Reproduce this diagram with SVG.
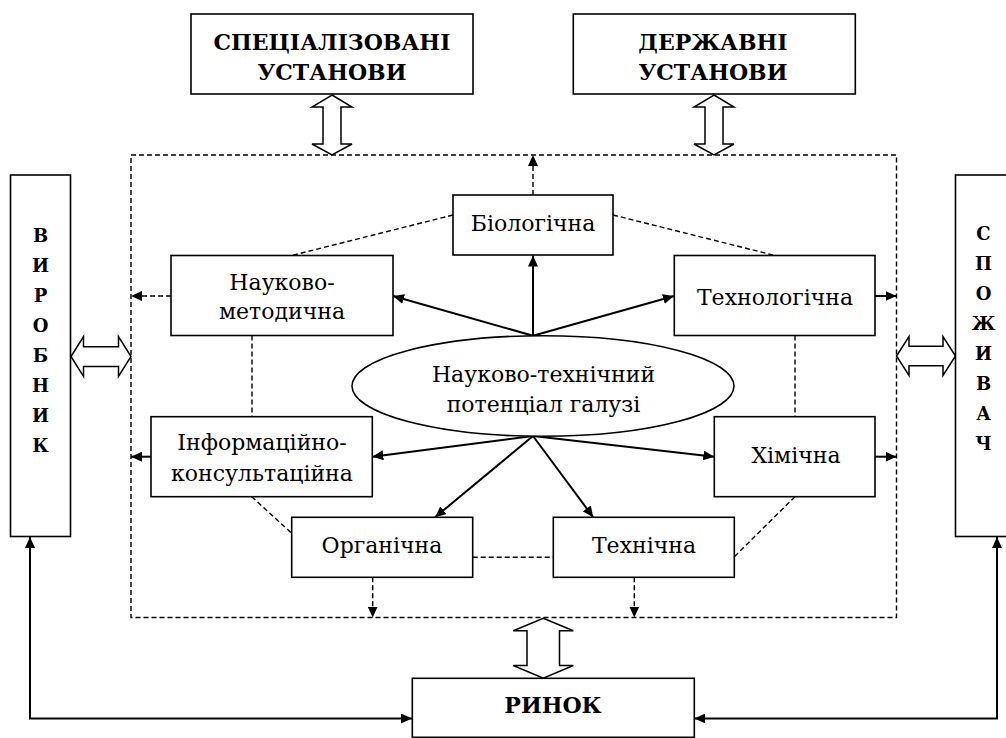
<svg xmlns="http://www.w3.org/2000/svg" width="1006" height="738" viewBox="0 0 1006 738">
<style>
.box{fill:#fff;stroke:#000;stroke-width:1.6}
.sol{fill:none;stroke:#000;stroke-width:2}
.dsh{fill:none;stroke:#000;stroke-width:1.4;stroke-dasharray:5,3}
.dbl{fill:#fff;stroke:#000;stroke-width:1.5;stroke-linejoin:miter}
</style>
<defs>
<marker id="ah" markerUnits="userSpaceOnUse" markerWidth="11" markerHeight="10" refX="11" refY="5" orient="auto-start-reverse" viewBox="0 0 11 10">
<path d="M0,0 L11,5 L0,10 z" fill="#000"/>
</marker>
</defs>
<rect width="1006" height="738" fill="#fff"/>

<g id="container">
<rect x="131" y="155" width="765.5" height="462.5" class="dsh"/>
</g>

<g id="connectors">
<line x1="533" y1="335.7" x2="533" y2="255.5" class="sol" marker-end="url(#ah)"/>
<line x1="533" y1="335.7" x2="393" y2="296" class="sol" marker-end="url(#ah)"/>
<line x1="533" y1="335.7" x2="674" y2="296" class="sol" marker-end="url(#ah)"/>
<line x1="533" y1="436" x2="372.3" y2="456.7" class="sol" marker-end="url(#ah)"/>
<line x1="533" y1="436" x2="714.3" y2="456.7" class="sol" marker-end="url(#ah)"/>
<line x1="533" y1="436" x2="435" y2="517.3" class="sol" marker-end="url(#ah)"/>
<line x1="533" y1="436" x2="593.3" y2="517.3" class="sol" marker-end="url(#ah)"/>
<line x1="875" y1="296" x2="896.5" y2="296" class="sol" marker-end="url(#ah)"/>
<line x1="875" y1="456.7" x2="896.5" y2="456.7" class="sol" marker-end="url(#ah)"/>
<line x1="151" y1="456.7" x2="131" y2="456.7" class="sol" marker-end="url(#ah)"/>
<line x1="533" y1="195" x2="533" y2="155" class="dsh" marker-end="url(#ah)"/>
<line x1="171" y1="296" x2="131" y2="296" class="dsh" marker-end="url(#ah)"/>
<line x1="372.7" y1="577.3" x2="372.7" y2="617.5" class="dsh" marker-end="url(#ah)"/>
<line x1="634.3" y1="577.3" x2="634.3" y2="617.5" class="dsh" marker-end="url(#ah)"/>
<line x1="453" y1="215" x2="291.7" y2="255.5" class="dsh"/>
<line x1="613" y1="215" x2="775" y2="255.5" class="dsh"/>
<line x1="252" y1="335.5" x2="252" y2="416.7" class="dsh"/>
<line x1="795" y1="335.5" x2="795" y2="416.7" class="dsh"/>
<line x1="251.7" y1="496.7" x2="291.7" y2="533.3" class="dsh"/>
<line x1="795" y1="496.7" x2="734.3" y2="556.7" class="dsh"/>
<line x1="472.7" y1="557.3" x2="553.3" y2="557.3" class="dsh"/>
<path d="M30,537 V718.5 H412" class="sol" marker-start="url(#ah)" marker-end="url(#ah)"/>
<path d="M997,537 V718.5 H694.3" class="sol" marker-start="url(#ah)" marker-end="url(#ah)"/>
<polygon class="dbl" points="332,95 352,107 341,107 341,144 352,144 332,155 312,144 323,144 323,107 312,107"/>
<polygon class="dbl" points="714,95 734,107 723,107 723,144 734,144 714,155 694,144 705,144 705,107 694,107"/>
<polygon class="dbl" points="543.3,618.3 573.3,630.7 559.5,630.7 559.5,665.5 573.3,665.5 543.3,678.3 513.3,665.5 527,665.5 527,630.7 513.3,630.7"/>
<polygon class="dbl" points="71,356.5 83.5,336.7 83.5,346.7 118.5,346.7 118.5,336.7 131,356.5 118.5,376.3 118.5,366.5 83.5,366.5 83.5,376.3"/>
<polygon class="dbl" points="896.5,356 909,336.5 909,346.3 943,346.3 943,336.5 955.5,356 943,375.5 943,365.7 909,365.7 909,375.5"/>
</g>

<g font-family="DejaVu Serif, serif" fill="#000" text-anchor="middle">
<g id="spec" font-size="22" font-weight="bold">
<rect x="191" y="14" width="282" height="80" class="box"/>
<text x="332" y="50">СПЕЦІАЛІЗОВАНІ</text>
<text x="332" y="80">УСТАНОВИ</text>
</g>
<g id="derzh" font-size="22" font-weight="bold">
<rect x="573.3" y="14" width="282" height="80" class="box"/>
<text x="713" y="50">ДЕРЖАВНІ</text>
<text x="713" y="80">УСТАНОВИ</text>
</g>
<g id="vyrobnyk" font-size="18" font-weight="bold">
<rect x="10.5" y="175" width="60" height="361.5" class="box"/>
<text x="40.5" y="242">В</text>
<text x="40.5" y="272">И</text>
<text x="40.5" y="302">Р</text>
<text x="40.5" y="332">О</text>
<text x="40.5" y="362">Б</text>
<text x="40.5" y="392">Н</text>
<text x="40.5" y="422">И</text>
<text x="40.5" y="452">К</text>
</g>
<g id="spozhyvach" font-size="18" font-weight="bold">
<rect x="955.5" y="175" width="60" height="361.5" class="box"/>
<text x="983.5" y="240">С</text>
<text x="983.5" y="270">П</text>
<text x="983.5" y="300">О</text>
<text x="983.5" y="330">Ж</text>
<text x="983.5" y="360">И</text>
<text x="983.5" y="390">В</text>
<text x="983.5" y="420">А</text>
<text x="983.5" y="450">Ч</text>
</g>
<g id="rynok" font-size="22" font-weight="bold">
<rect x="412.3" y="678.3" width="282" height="59" class="box"/>
<text x="553" y="713">РИНОК</text>
</g>

<g font-size="22">
<g id="potential">
<ellipse cx="543" cy="386" rx="191" ry="50.3" class="box"/>
<text x="543.5" y="382">Науково-технічний</text>
<text x="543.5" y="412">потенціал галузі</text>
</g>
<g id="biol">
<rect x="453" y="195" width="160" height="60" class="box"/>
<text x="533" y="231">Біологічна</text>
</g>
<g id="nm">
<rect x="171" y="255.5" width="222" height="80" class="box"/>
<text x="282" y="290">Науково-</text>
<text x="282" y="319">методична</text>
</g>
<g id="techlog">
<rect x="674.3" y="255.5" width="200.7" height="80" class="box"/>
<text x="775" y="305">Технологічна</text>
</g>
<g id="info">
<rect x="151" y="416.7" width="221.3" height="80" class="box"/>
<text x="262" y="450">Інформаційно-</text>
<text x="262" y="481">консультаційна</text>
</g>
<g id="khim">
<rect x="714.3" y="416.7" width="160.7" height="80" class="box"/>
<text x="796" y="463">Хімічна</text>
</g>
<g id="org">
<rect x="291.7" y="517.3" width="181" height="60" class="box"/>
<text x="382" y="553">Органічна</text>
</g>
<g id="tekhn">
<rect x="553.3" y="517.3" width="181" height="60" class="box"/>
<text x="644" y="553">Технічна</text>
</g>
</g>
</g>
</svg>
